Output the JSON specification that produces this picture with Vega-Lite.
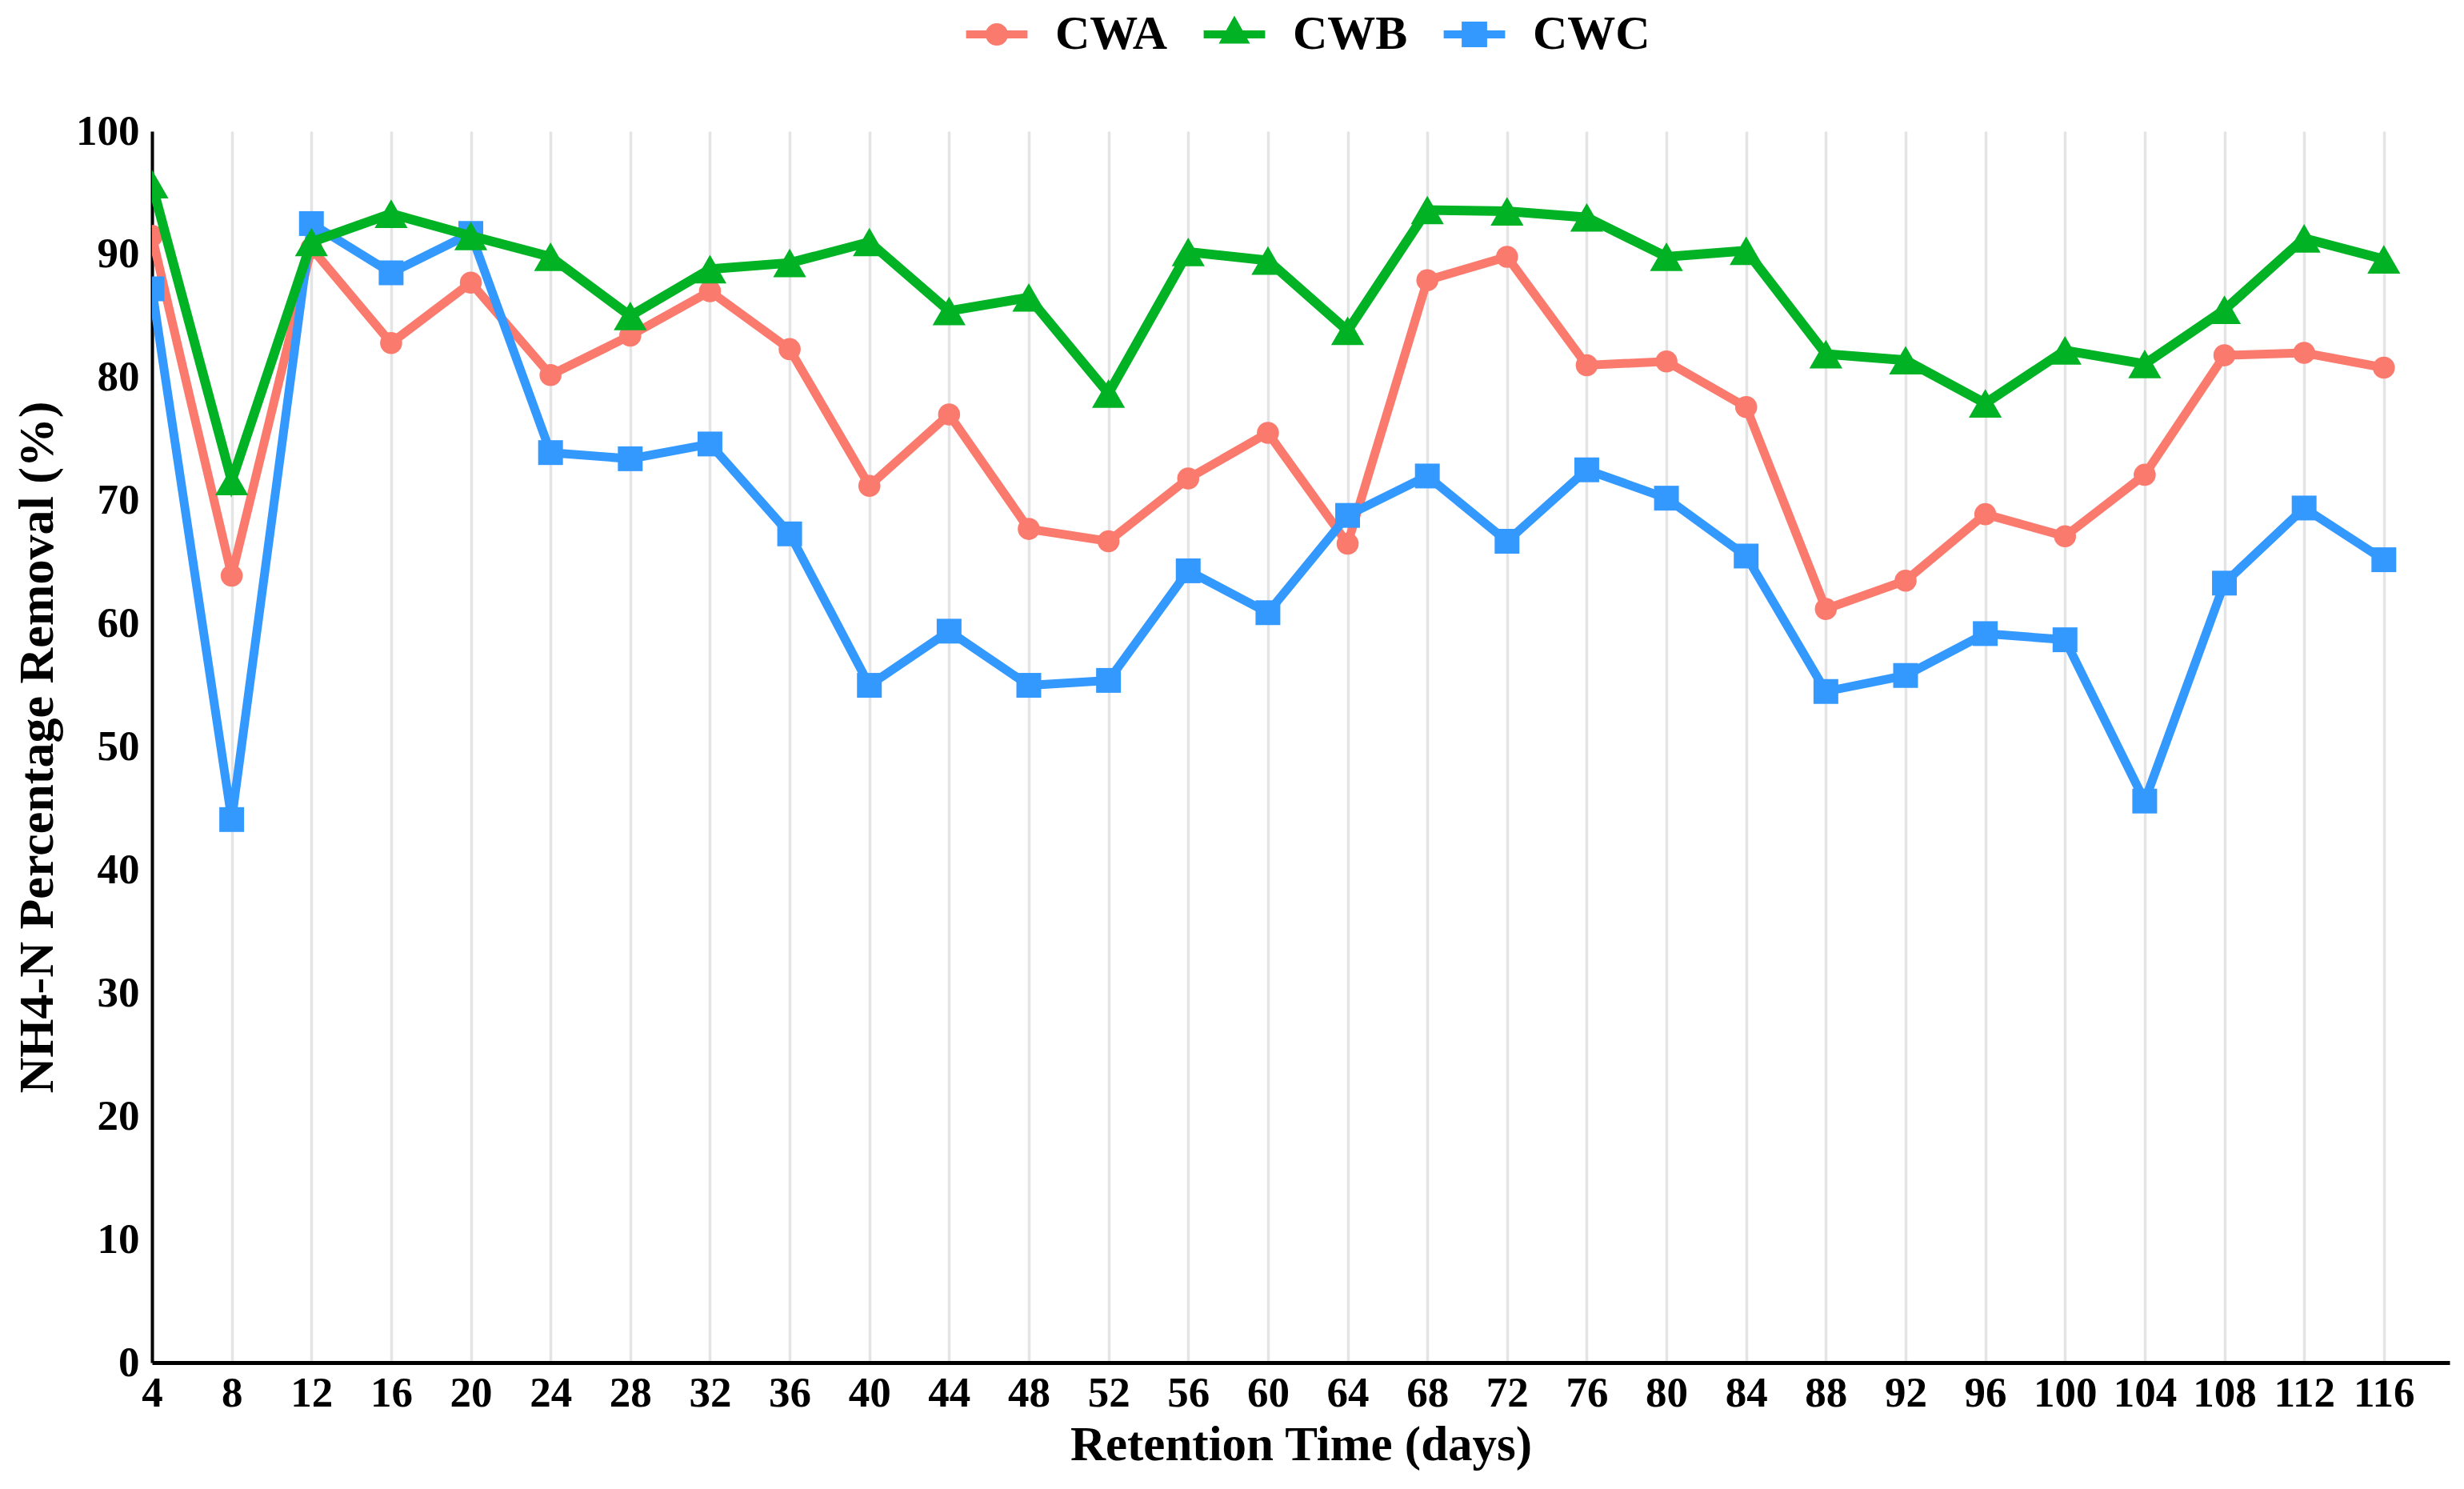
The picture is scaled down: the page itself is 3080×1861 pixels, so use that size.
{
  "$schema": "https://vega.github.io/schema/vega-lite/v6.json",
  "width": 2872,
  "height": 1539,
  "autosize": {"type": "none"},
  "padding": {"left": 190, "top": 164, "right": 18, "bottom": 158},
  "background": "white",
  "config": {
    "view": {"stroke": null},
    "axis": {
      "labelFont": "Liberation Serif",
      "labelFontWeight": "bold",
      "labelFontSize": 53,
      "labelColor": "black",
      "titleFont": "Liberation Serif",
      "titleFontWeight": "bold",
      "titleColor": "black",
      "ticks": false,
      "domainColor": "black"
    }
  },
  "data": {
    "values": [
      {"day": 4, "CWA": 91.5, "CWB": 95.7, "CWC": 87.2},
      {"day": 8, "CWA": 63.9, "CWB": 71.6, "CWC": 44.1},
      {"day": 12, "CWA": 90.5, "CWB": 91.0, "CWC": 92.5},
      {"day": 16, "CWA": 82.8, "CWB": 93.3, "CWC": 88.5},
      {"day": 20, "CWA": 87.7, "CWB": 91.5, "CWC": 91.7},
      {"day": 24, "CWA": 80.2, "CWB": 89.8, "CWC": 73.9},
      {"day": 28, "CWA": 83.4, "CWB": 85.0, "CWC": 73.4},
      {"day": 32, "CWA": 87.0, "CWB": 88.8, "CWC": 74.6},
      {"day": 36, "CWA": 82.3, "CWB": 89.3, "CWC": 67.3},
      {"day": 40, "CWA": 71.2, "CWB": 91.0, "CWC": 55.0},
      {"day": 44, "CWA": 77.0, "CWB": 85.4, "CWC": 59.4},
      {"day": 48, "CWA": 67.7, "CWB": 86.5, "CWC": 55.0},
      {"day": 52, "CWA": 66.7, "CWB": 78.7, "CWC": 55.4},
      {"day": 56, "CWA": 71.8, "CWB": 90.2, "CWC": 64.3},
      {"day": 60, "CWA": 75.5, "CWB": 89.5, "CWC": 60.9},
      {"day": 64, "CWA": 66.5, "CWB": 83.8, "CWC": 68.8},
      {"day": 68, "CWA": 87.9, "CWB": 93.6, "CWC": 72.0},
      {"day": 72, "CWA": 89.8, "CWB": 93.5, "CWC": 66.7},
      {"day": 76, "CWA": 81.0, "CWB": 93.0, "CWC": 72.5},
      {"day": 80, "CWA": 81.3, "CWB": 89.8, "CWC": 70.2},
      {"day": 84, "CWA": 77.6, "CWB": 90.3, "CWC": 65.5},
      {"day": 88, "CWA": 61.2, "CWB": 81.9, "CWC": 54.5},
      {"day": 92, "CWA": 63.5, "CWB": 81.4, "CWC": 55.8},
      {"day": 96, "CWA": 68.9, "CWB": 77.9, "CWC": 59.2},
      {"day": 100, "CWA": 67.1, "CWB": 82.2, "CWC": 58.7},
      {"day": 104, "CWA": 72.1, "CWB": 81.1, "CWC": 45.6},
      {"day": 108, "CWA": 81.8, "CWB": 85.5, "CWC": 63.3},
      {"day": 112, "CWA": 82.0, "CWB": 91.3, "CWC": 69.4},
      {"day": 116, "CWA": 80.8, "CWB": 89.6, "CWC": 65.2}
    ]
  },
  "transform": [{"fold": ["CWA", "CWB", "CWC"], "as": ["series", "value"]}],
  "encoding": {
    "x": {
      "field": "day",
      "type": "quantitative",
      "scale": {"domain": [4, 119.3], "nice": false, "zero": false},
      "axis": {
        "values": [4, 8, 12, 16, 20, 24, 28, 32, 36, 40, 44, 48, 52, 56, 60, 64, 68, 72, 76, 80, 84, 88, 92, 96, 100, 104, 108, 112, 116],
        "title": "Retention Time (days)",
        "titleFontSize": 61,
        "titlePadding": 8,
        "labelPadding": 12,
        "grid": true,
        "gridColor": "#e4e4e4",
        "gridWidth": 3.5,
        "domainWidth": 5,
        "labelFlush": false,
        "labelOverlap": false
      }
    },
    "y": {
      "field": "value",
      "type": "quantitative",
      "scale": {"domain": [0, 100], "nice": false},
      "axis": {
        "values": [0, 10, 20, 30, 40, 50, 60, 70, 80, 90, 100],
        "title": "NH4-N Percentage Removal (%)",
        "titleFontSize": 62,
        "titlePadding": 16,
        "labelPadding": 16,
        "grid": false,
        "domainWidth": 4,
        "labelOverlap": false
      }
    },
    "color": {
      "field": "series",
      "type": "nominal",
      "scale": {"domain": ["CWA", "CWB", "CWC"], "range": ["#fb7a6e", "#00b224", "#3399ff"]},
      "legend": {
        "title": null,
        "orient": "none",
        "direction": "horizontal",
        "legendX": 1026,
        "legendY": -151,
        "padding": 0,
        "symbolSize": 3600,
        "labelOffset": 43,
        "columnPadding": 44,
        "labelFont": "Liberation Serif",
        "labelFontWeight": "bold",
        "labelFontSize": 60,
        "labelColor": "black",
        "encoding": {
          "symbols": {
            "shape": {"value": {"expr": "datum.value === 'CWA' ? 'M-1.28,-0.17H1.28V0.17H-1.28Z M-0.47,0A0.47,0.47 0 1 1 0.47,0A0.47,0.47 0 1 1 -0.47,0Z' : datum.value === 'CWB' ? 'M-1.28,-0.17H1.28V0.17H-1.28Z M0,-0.78L0.65,0.38L-0.65,0.38Z' : 'M-1.28,-0.17H1.28V0.17H-1.28Z M-0.53,-0.53H0.53V0.53H-0.53Z'"}},
            "fill": {"value": {"expr": "scale('color', datum.value)"}},
            "fillOpacity": {"value": 1},
            "stroke": {"value": "transparent"},
            "strokeWidth": {"value": 0}
          }
        }
      }
    }
  },
  "layer": [
    {
      "transform": [{"filter": "datum.series === 'CWA'"}],
      "mark": {"type": "line", "strokeWidth": 11, "clip": true}
    },
    {
      "transform": [{"filter": "datum.series === 'CWA'"}],
      "mark": {"type": "point", "shape": "circle", "filled": true, "opacity": 1, "size": 760, "clip": true}
    },
    {
      "transform": [{"filter": "datum.series === 'CWC'"}],
      "mark": {"type": "line", "strokeWidth": 11, "clip": true}
    },
    {
      "transform": [{"filter": "datum.series === 'CWC'"}],
      "mark": {"type": "point", "shape": "square", "filled": true, "opacity": 1, "size": 960, "clip": true}
    },
    {
      "transform": [{"filter": "datum.series === 'CWB'"}],
      "mark": {"type": "line", "strokeWidth": 12, "clip": true}
    },
    {
      "transform": [{"filter": "datum.series === 'CWB'"}],
      "mark": {"type": "point", "shape": "triangle-up", "filled": true, "opacity": 1, "size": 1700, "clip": true}
    }
  ]
}
